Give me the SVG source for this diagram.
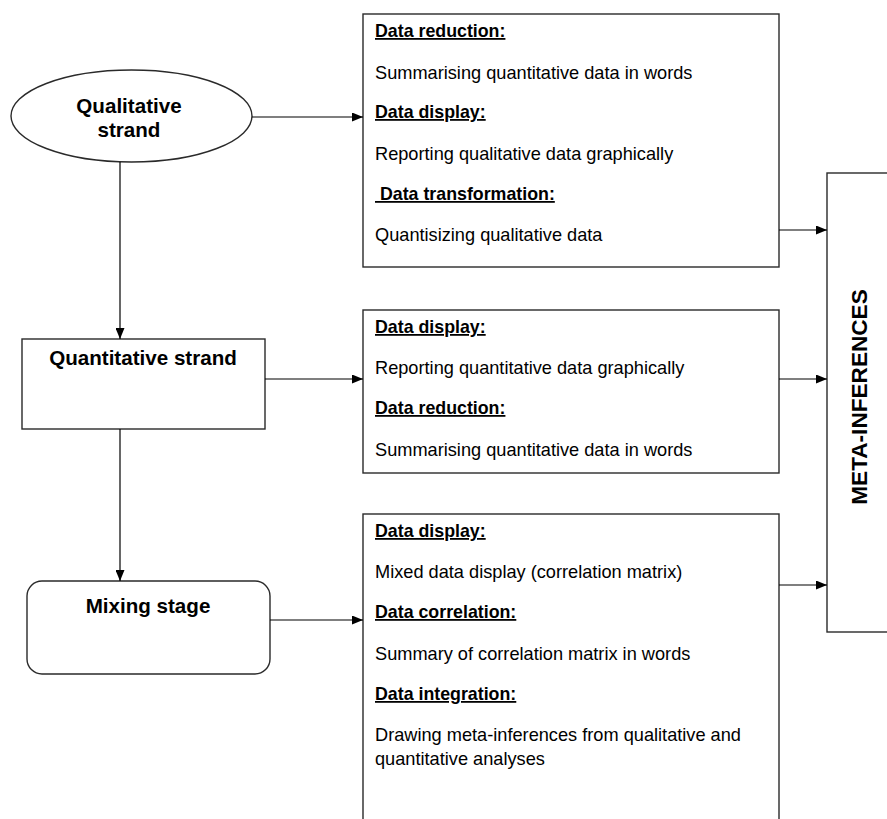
<svg xmlns="http://www.w3.org/2000/svg" width="887" height="819" viewBox="0 0 887 819">
<style>
.shape{fill:#fff;stroke:#2a2a2a;stroke-width:1.4}
.conn{stroke:#000;stroke-width:1.2;fill:none;marker-end:url(#arr)}
.node{font-family:"Liberation Sans",Arial,sans-serif;font-weight:bold;font-size:20.6px;fill:#000;text-anchor:middle}
.hd{font-family:"Liberation Sans",Arial,sans-serif;font-weight:bold;font-size:17.8px;fill:#000;text-decoration:underline}
.tx{font-family:"Liberation Sans",Arial,sans-serif;font-size:18.2px;fill:#000}
.meta{font-family:"Liberation Sans",Arial,sans-serif;font-weight:bold;font-size:22.6px;fill:#000;text-anchor:middle}
</style>
<defs>
<marker id="arr" markerWidth="11" markerHeight="9" refX="11" refY="4.5" orient="auto" markerUnits="userSpaceOnUse">
<path d="M0,0 L11,4.5 L0,9 Z" fill="#000"/>
</marker>
</defs>
<rect width="887" height="819" fill="#fff"/>

<g id="qualitative">
<ellipse class="shape" cx="131.5" cy="116" rx="120.5" ry="46"/>
<text class="node" x="129" y="113">Qualitative</text>
<text class="node" x="129" y="137">strand</text>
</g>

<g id="quantitative">
<rect class="shape" x="22" y="339" width="243" height="90"/>
<text class="node" x="143" y="365">Quantitative strand</text>
</g>

<g id="mixing">
<rect class="shape" x="27" y="581" width="243" height="93" rx="15" ry="15"/>
<text class="node" x="148" y="613">Mixing stage</text>
</g>

<g id="box1">
<rect class="shape" x="363" y="14" width="416" height="253"/>
<text class="hd" x="375" y="37">Data reduction:</text>
<text class="tx" x="375" y="79">Summarising quantitative data in words</text>
<text class="hd" x="375" y="118">Data display:</text>
<text class="tx" x="375" y="160">Reporting qualitative data graphically</text>
<text class="hd" x="375" y="200" xml:space="preserve"> Data transformation:</text>
<text class="tx" x="375" y="241">Quantisizing qualitative data</text>
</g>

<g id="box2">
<rect class="shape" x="363" y="310" width="416" height="163"/>
<text class="hd" x="375" y="333">Data display:</text>
<text class="tx" x="375" y="374">Reporting quantitative data graphically</text>
<text class="hd" x="375" y="414">Data reduction:</text>
<text class="tx" x="375" y="456">Summarising quantitative data in words</text>
</g>

<g id="box3">
<rect class="shape" x="363" y="514" width="416" height="320"/>
<text class="hd" x="375" y="537">Data display:</text>
<text class="tx" x="375" y="578">Mixed data display (correlation matrix)</text>
<text class="hd" x="375" y="618">Data correlation:</text>
<text class="tx" x="375" y="660">Summary of correlation matrix in words</text>
<text class="hd" x="375" y="700">Data integration:</text>
<text class="tx" x="375" y="741">Drawing meta-inferences from qualitative and</text>
<text class="tx" x="375" y="765">quantitative analyses</text>
</g>

<g id="meta">
<rect class="shape" x="827" y="173" width="80" height="459"/>
<text class="meta" transform="translate(867,397) rotate(-90)">META-INFERENCES</text>
</g>

<g id="connectors">
<line class="conn" x1="252" y1="117" x2="363" y2="117"/>
<line class="conn" x1="120" y1="162" x2="120" y2="339"/>
<line class="conn" x1="265" y1="379" x2="363" y2="379"/>
<line class="conn" x1="120" y1="429" x2="120" y2="581"/>
<line class="conn" x1="270" y1="620" x2="363" y2="620"/>
<line class="conn" x1="779" y1="230" x2="827" y2="230"/>
<line class="conn" x1="779" y1="379" x2="827" y2="379"/>
<line class="conn" x1="779" y1="585" x2="827" y2="585"/>
</g>
</svg>
